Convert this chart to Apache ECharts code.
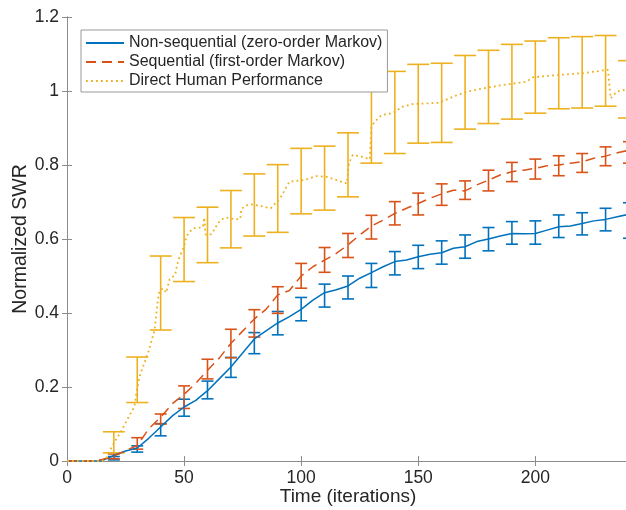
<!DOCTYPE html>
<html>
<head>
<meta charset="utf-8">
<script src="https://cdn.jsdelivr.net/npm/echarts@6/dist/echarts.min.js"></script>
<style>
  html, body { margin: 0; padding: 0; background: #fff; }
  #chart { width: 626px; height: 510px; }
</style>
</head>
<body>
<div id="chart"></div>
<script>
// mean curves
var lineX = [0, 5, 10, 15, 20, 25, 30, 35, 40, 45, 50, 55, 60, 65, 70, 75, 80, 85, 90, 95, 100,
  105, 110, 115, 120, 125, 130, 135, 140, 145, 150, 155, 160, 165, 170, 175, 180, 185, 190, 195, 200,
  205, 210, 215, 220, 225, 230, 235, 240];
var nonSeqY = [0, 0, 0, 0.001, 0.015, 0.027, 0.035, 0.062, 0.092, 0.122, 0.146, 0.164, 0.19, 0.222, 0.254, 0.292, 0.33, 0.352, 0.373, 0.39, 0.41,
  0.435, 0.455, 0.463, 0.473, 0.494, 0.509, 0.525, 0.539, 0.543, 0.552, 0.559, 0.563, 0.575, 0.579, 0.593, 0.6, 0.608, 0.615, 0.614, 0.615,
  0.624, 0.633, 0.635, 0.642, 0.649, 0.653, 0.66, 0.667];
var seqY = [0, 0, 0, 0.004, 0.013, 0.028, 0.042, 0.088, 0.118, 0.155, 0.18, 0.21, 0.245, 0.278, 0.318, 0.351, 0.384, 0.41, 0.449, 0.461, 0.5,
  0.525, 0.543, 0.561, 0.584, 0.611, 0.635, 0.651, 0.669, 0.683, 0.696, 0.71, 0.722, 0.732, 0.73, 0.746, 0.759, 0.773, 0.782, 0.786, 0.791,
  0.798, 0.8, 0.805, 0.809, 0.818, 0.824, 0.833, 0.84];

var humanX = [0, 15, 17, 18, 20, 23, 26, 28.8, 29.8, 31, 33, 35, 37.4, 38.8, 39.5, 41, 42.4, 43.8, 46.2, 47, 48, 50, 51, 52, 54, 57, 58,
  58.6, 59.2, 61.6, 63, 64.4, 66, 68, 72, 74, 74.5, 76, 78, 82, 87, 91, 95, 101, 106.5, 111, 117, 119.5, 120.4, 122, 126.4, 129.3,
  130, 131.4, 134.3, 139, 143.5, 148, 159, 165, 170.5, 177.7, 186, 196, 199, 209, 220, 231, 232.2, 234.7, 240];
var humanY = [0, 0, 0.01, 0.025, 0.048, 0.079, 0.115, 0.147, 0.192, 0.228, 0.264, 0.3, 0.354, 0.435, 0.46, 0.467, 0.455, 0.491, 0.503, 0.53, 0.552, 0.579, 0.606, 0.617, 0.629, 0.631, 0.632,
  0.658, 0.612, 0.613, 0.626, 0.642, 0.653, 0.658, 0.653, 0.654, 0.681, 0.689, 0.694, 0.69, 0.683, 0.71, 0.755, 0.759, 0.77, 0.768, 0.755, 0.75, 0.805, 0.827, 0.822, 0.815,
  0.903, 0.917, 0.935, 0.94, 0.958, 0.965, 0.968, 0.985, 0.998, 1.007, 1.016, 1.025, 1.037, 1.043, 1.048, 1.057, 0.98, 0.998, 1.006];

// error bars (lower / upper ends)
var errX = [20, 30, 40, 50, 60, 70, 80, 90, 100, 110, 120, 130, 140, 150, 160, 170, 180, 190, 200, 210, 220, 230, 240];
var nonSeqLow  = [0.003, 0.024, 0.068, 0.121, 0.168, 0.226, 0.290, 0.341, 0.379, 0.416, 0.438, 0.469, 0.503, 0.520, 0.532, 0.548, 0.568, 0.586, 0.586, 0.604, 0.611, 0.622, 0.602];
var nonSeqHigh = [0.012, 0.041, 0.101, 0.167, 0.216, 0.280, 0.347, 0.404, 0.442, 0.478, 0.500, 0.534, 0.566, 0.583, 0.595, 0.611, 0.631, 0.647, 0.649, 0.665, 0.671, 0.683, 0.698];
var seqLow  = [0.006, 0.032, 0.100, 0.142, 0.222, 0.279, 0.335, 0.399, 0.467, 0.510, 0.550, 0.600, 0.638, 0.665, 0.691, 0.707, 0.730, 0.755, 0.762, 0.771, 0.780, 0.798, 0.805];
var seqHigh = [0.019, 0.063, 0.127, 0.203, 0.275, 0.356, 0.409, 0.471, 0.534, 0.577, 0.615, 0.664, 0.701, 0.724, 0.749, 0.757, 0.786, 0.807, 0.816, 0.825, 0.831, 0.849, 0.863];
var humanLow  = [0.022, 0.158, 0.354, 0.485, 0.536, 0.576, 0.608, 0.618, 0.668, 0.678, 0.714, 0.805, 0.831, 0.859, 0.861, 0.897, 0.912, 0.924, 0.940, 0.952, 0.954, 0.959, 0.927];
var humanHigh = [0.079, 0.281, 0.554, 0.658, 0.686, 0.731, 0.776, 0.801, 0.845, 0.851, 0.887, 1.030, 1.053, 1.072, 1.075, 1.096, 1.110, 1.126, 1.135, 1.144, 1.147, 1.150, 1.082];

var names = ['Non-sequential (zero-order Markov)', 'Sequential (first-order Markov)', 'Direct Human Performance'];
var colors = ['#0072BD', '#D95319', '#EDB120'];

var font = 'Liberation Sans, Arial, Helvetica, sans-serif';
var textColor = '#262626';
var axisColor = '#8c8c8c';

function pairs(xs, ys) {
  return xs.map(function (x, i) { return [x, ys[i]]; });
}

function errSeries(low, high, color, half) {
  return {
    type: 'custom',
    z: 3,
    data: errX.map(function (x, i) { return [x, low[i], high[i]]; }),
    encode: { x: 0, y: [1, 2] },
    silent: true,
    renderItem: function (params, api) {
      var lo = api.coord([api.value(0), api.value(1)]);
      var hi = api.coord([api.value(0), api.value(2)]);
      var st = { stroke: color, lineWidth: 1.6 };
      return {
        type: 'group',
        children: [
          { type: 'line', shape: { x1: lo[0], y1: lo[1], x2: hi[0], y2: hi[1] }, style: st },
          { type: 'line', shape: { x1: lo[0] - half, y1: lo[1], x2: lo[0] + half, y2: lo[1] }, style: st },
          { type: 'line', shape: { x1: hi[0] - half, y1: hi[1], x2: hi[0] + half, y2: hi[1] }, style: st }
        ]
      };
    }
  };
}

var chart = echarts.init(document.getElementById('chart'), null, { renderer: 'canvas' });

var option = {
  animation: false,
  backgroundColor: '#fff',
  textStyle: { fontFamily: font },
  grid: { left: 67, right: -3, top: 17, bottom: 49, containLabel: false, outerBoundsMode: 'none' },
  legend: {
    data: names,
    orient: 'vertical',
    left: 81,
    top: 30,
    itemWidth: 38,
    itemHeight: 14,
    itemGap: 3,
    padding: [5, 5, 3, 4],
    backgroundColor: '#fff',
    borderColor: '#999',
    borderWidth: 1,
    itemStyle: { opacity: 0 },
    textStyle: { fontFamily: font, fontSize: 16, lineHeight: 14, color: textColor },
    z: 10
  },
  xAxis: [{
    type: 'value',
    min: 0, max: 240, interval: 50,
    name: 'Time (iterations)',
    nameLocation: 'middle',
    nameGap: 26,
    nameMoveOverlap: false,
    nameTextStyle: { fontFamily: font, fontSize: 19, color: textColor },
    axisLine: { lineStyle: { color: axisColor, width: 1 } },
    axisTick: { inside: true, length: 5, lineStyle: { color: axisColor } },
    axisLabel: { fontFamily: font, fontSize: 17.5, color: textColor, margin: 8, showMaxLabel: false },
    splitLine: { show: false }
  }, {
    type: 'value',
    position: 'top',
    min: 0, max: 240, interval: 50,
    axisLine: { lineStyle: { color: axisColor, width: 1 } },
    axisTick: { inside: true, length: 5, lineStyle: { color: axisColor } },
    axisLabel: { show: false },
    splitLine: { show: false }
  }],
  yAxis: [{
    type: 'value',
    min: 0, max: 1.2, interval: 0.2,
    name: 'Normalized SWR',
    nameLocation: 'middle',
    nameGap: 36,
    nameMoveOverlap: false,
    nameTextStyle: { fontFamily: font, fontSize: 19.5, color: textColor },
    axisLine: { show: true, lineStyle: { color: axisColor, width: 1 } },
    axisTick: { show: true, inside: true, length: 5, lineStyle: { color: axisColor } },
    axisLabel: { fontFamily: font, fontSize: 17.5, color: textColor, margin: 8 },
    splitLine: { show: false }
  }, {
    type: 'value',
    position: 'right',
    min: 0, max: 1.2, interval: 0.2,
    axisLine: { show: true, lineStyle: { color: axisColor, width: 1 } },
    axisTick: { show: true, inside: true, length: 5, lineStyle: { color: axisColor } },
    axisLabel: { show: false },
    splitLine: { show: false }
  }],
  series: [
    errSeries(nonSeqLow, nonSeqHigh, colors[0], 6),
    errSeries(seqLow, seqHigh, colors[1], 6),
    errSeries(humanLow, humanHigh, colors[2], 11),
    {
      name: names[0], type: 'line', symbol: 'none', z: 4,
      data: pairs(lineX, nonSeqY),
      itemStyle: { color: colors[0] },
      lineStyle: { color: colors[0], width: 1.5 }
    },
    {
      name: names[1], type: 'line', symbol: 'none', z: 4,
      data: pairs(lineX, seqY),
      itemStyle: { color: colors[1] },
      lineStyle: { color: colors[1], width: 1.5, type: [10, 6] }
    },
    {
      name: names[2], type: 'line', symbol: 'none', z: 4,
      data: pairs(humanX, humanY),
      itemStyle: { color: colors[2] },
      lineStyle: { color: colors[2], width: 1.8, type: [1.8, 3.2] }
    }
  ]
};

chart.setOption(option);
</script>
</body>
</html>
